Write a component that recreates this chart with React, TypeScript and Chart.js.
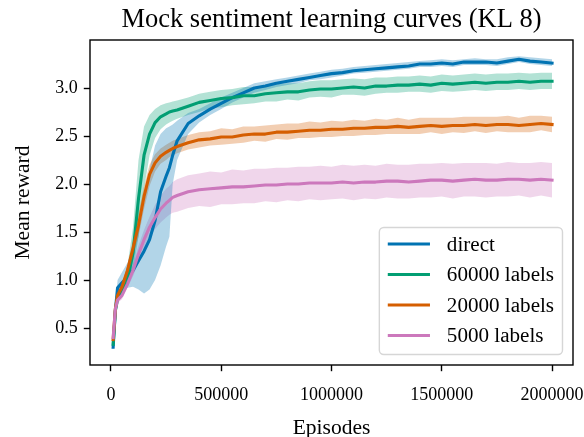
import React, { useEffect, useRef } from "react";
import { Chart, registerables } from "chart.js";

Chart.register(...registerables);

const TITLE = "Mock sentiment learning curves (KL 8)";
const X_LABEL = "Episodes";
const Y_LABEL = "Mean reward";
const X_TICKS = [0, 500000, 1000000, 1500000, 2000000];
const Y_TICKS = [0.5, 1.0, 1.5, 2.0, 2.5, 3.0];
const SERIES_LABELS = ["direct", "60000 labels", "20000 labels", "5000 labels"];

const EPISODES = [
  10000, 20000, 30000, 50000, 75000, 100000, 125000, 150000, 175000, 200000,
  225000, 250000, 265000, 280000, 300000, 350000,
  400000, 450000, 500000, 550000, 600000, 650000, 700000, 750000, 800000, 850000,
  900000, 950000, 1000000, 1050000, 1100000, 1150000, 1200000, 1250000, 1300000,
  1350000, 1400000, 1450000, 1500000, 1550000, 1600000, 1650000, 1700000, 1750000,
  1800000, 1850000, 1900000, 1950000, 2000000,
];

// direct
const DIRECT_MEAN = [
  0.3, 0.68, 0.92, 0.97, 1.03, 1.1, 1.2, 1.3, 1.42, 1.62, 1.92, 2.08, 2.17, 2.3, 2.45, 2.63,
  2.71, 2.78, 2.84, 2.9, 2.95, 3.0, 3.02, 3.05, 3.07, 3.09, 3.11, 3.13, 3.15, 3.16, 3.18, 3.19,
  3.2, 3.21, 3.22, 3.23, 3.25, 3.25, 3.26, 3.25, 3.27, 3.27, 3.27, 3.26, 3.28, 3.3, 3.28, 3.27, 3.26,
];
const DIRECT_LO = [
  0.28, 0.62, 0.85, 0.88, 0.92, 0.93, 0.9, 0.86, 0.9, 1.0, 1.15, 1.35, 1.45, 2.0, 2.25, 2.52,
  2.64, 2.72, 2.78, 2.85, 2.9, 2.95, 2.98, 3.01, 3.03, 3.05, 3.08, 3.09, 3.11, 3.13, 3.15, 3.16,
  3.17, 3.18, 3.19, 3.2, 3.22, 3.22, 3.23, 3.22, 3.24, 3.24, 3.24, 3.23, 3.25, 3.27, 3.25, 3.24, 3.23,
];
const DIRECT_HI = [
  0.33, 0.74, 1.0, 1.08, 1.18, 1.32, 1.52, 1.8, 2.15, 2.4, 2.52, 2.58, 2.6, 2.62, 2.66, 2.74,
  2.78, 2.84, 2.9, 2.95, 3.0, 3.05, 3.07, 3.09, 3.11, 3.13, 3.15, 3.17, 3.19, 3.2, 3.22, 3.23,
  3.24, 3.25, 3.26, 3.27, 3.28, 3.29, 3.3, 3.29, 3.3, 3.31, 3.3, 3.3, 3.32, 3.33, 3.32, 3.31, 3.3,
];

// 60000 labels
const L60K_MEAN = [
  0.33, 0.68, 0.8, 0.88, 1.0, 1.28, 1.85, 2.3, 2.52, 2.64, 2.7, 2.73, 2.75, 2.76, 2.77, 2.81,
  2.85, 2.87, 2.89, 2.9, 2.92, 2.92, 2.94, 2.95, 2.96, 2.96, 2.98, 2.99, 2.99, 3.0, 3.01, 3.0,
  3.02, 3.02, 3.03, 3.03, 3.04, 3.03, 3.05, 3.04, 3.05, 3.06, 3.05, 3.06, 3.06, 3.07, 3.06, 3.07, 3.07,
];
const L60K_LO = [
  0.31, 0.64, 0.76, 0.84, 0.93, 1.1, 1.45, 1.95, 2.3, 2.48, 2.57, 2.62, 2.64, 2.66, 2.68, 2.72,
  2.75, 2.79, 2.8, 2.82, 2.83, 2.84, 2.86, 2.86, 2.88, 2.87, 2.9, 2.91, 2.9, 2.93, 2.93, 2.92,
  2.94, 2.95, 2.95, 2.96, 2.96, 2.95, 2.97, 2.96, 2.97, 2.98, 2.97, 2.98, 2.98, 2.99, 2.98, 2.99, 2.99,
];
const L60K_HI = [
  0.35, 0.72, 0.85, 0.94, 1.15, 1.55, 2.25, 2.6, 2.72, 2.78, 2.82, 2.84, 2.85, 2.86, 2.87, 2.9,
  2.94, 2.96, 2.98, 2.99, 3.01, 3.01, 3.03, 3.04, 3.05, 3.05, 3.07, 3.08, 3.08, 3.09, 3.1, 3.09,
  3.11, 3.11, 3.12, 3.12, 3.13, 3.12, 3.14, 3.13, 3.14, 3.15, 3.14, 3.15, 3.15, 3.16, 3.15, 3.16, 3.16,
];

// 20000 labels
const L20K_MEAN = [
  0.38, 0.7, 0.84, 0.93, 1.1, 1.33, 1.57, 1.87, 2.1, 2.22, 2.29, 2.33, 2.35, 2.37, 2.39, 2.43,
  2.46, 2.47, 2.49, 2.49, 2.51, 2.52, 2.52, 2.54, 2.54, 2.55, 2.56, 2.56, 2.57, 2.57, 2.58, 2.58,
  2.59, 2.59, 2.6, 2.59, 2.6, 2.61, 2.6, 2.61, 2.61, 2.62, 2.61, 2.62, 2.62, 2.61, 2.62, 2.63, 2.62,
];
const L20K_LO = [
  0.36, 0.66, 0.8, 0.89, 1.04, 1.24, 1.45, 1.74, 1.98, 2.13, 2.21, 2.25, 2.28, 2.3, 2.32, 2.36,
  2.38, 2.4, 2.41, 2.42, 2.43, 2.45, 2.44, 2.47, 2.46, 2.48, 2.48, 2.49, 2.49, 2.5, 2.5, 2.51,
  2.51, 2.52, 2.52, 2.52, 2.52, 2.54, 2.52, 2.54, 2.53, 2.55, 2.53, 2.55, 2.54, 2.54, 2.54, 2.56, 2.54,
];
const L20K_HI = [
  0.4, 0.74, 0.88, 0.97, 1.16, 1.42, 1.7, 1.98, 2.2, 2.31, 2.37, 2.41, 2.43, 2.45, 2.47, 2.51,
  2.54, 2.55, 2.58, 2.57, 2.6, 2.6, 2.61, 2.62, 2.63, 2.63, 2.65, 2.64, 2.66, 2.65, 2.67, 2.66,
  2.68, 2.67, 2.69, 2.67, 2.69, 2.69, 2.69, 2.69, 2.7, 2.7, 2.7, 2.7, 2.71, 2.69, 2.71, 2.71, 2.7,
];

// 5000 labels
const L5K_MEAN = [
  0.4, 0.7, 0.79, 0.84, 0.96, 1.1, 1.27, 1.42, 1.55, 1.65, 1.74, 1.8, 1.83, 1.86, 1.88, 1.92,
  1.94, 1.95, 1.96, 1.97, 1.97, 1.98, 1.99, 1.99, 2.0, 2.0, 2.01, 2.01, 2.01, 2.02, 2.01, 2.02,
  2.02, 2.03, 2.03, 2.02, 2.03, 2.04, 2.04, 2.03, 2.04, 2.05, 2.04, 2.04, 2.05, 2.05, 2.04, 2.05, 2.04,
];
const L5K_LO = [
  0.38, 0.67, 0.76, 0.8, 0.92, 1.04, 1.18, 1.32, 1.44, 1.53, 1.6, 1.65, 1.68, 1.7, 1.71, 1.75,
  1.77, 1.76, 1.79, 1.79, 1.8, 1.8, 1.82, 1.81, 1.83, 1.82, 1.84, 1.83, 1.84, 1.85, 1.83, 1.85,
  1.84, 1.86, 1.85, 1.85, 1.86, 1.86, 1.87, 1.85, 1.87, 1.87, 1.86, 1.87, 1.87, 1.88, 1.86, 1.88, 1.86,
];
const L5K_HI = [
  0.42, 0.73, 0.82, 0.88, 1.01, 1.16, 1.36, 1.52, 1.66, 1.78, 1.88, 1.95, 1.98, 2.02, 2.05, 2.09,
  2.11, 2.13, 2.12, 2.15, 2.14, 2.16, 2.16, 2.17, 2.17, 2.18, 2.18, 2.19, 2.18, 2.2, 2.19, 2.2,
  2.19, 2.21, 2.2, 2.2, 2.21, 2.21, 2.22, 2.21, 2.22, 2.22, 2.22, 2.21, 2.23, 2.22, 2.22, 2.23, 2.22,
];

const MEANS = [DIRECT_MEAN, L60K_MEAN, L20K_MEAN, L5K_MEAN];
const LOWS = [DIRECT_LO, L60K_LO, L20K_LO, L5K_LO];
const HIGHS = [DIRECT_HI, L60K_HI, L20K_HI, L5K_HI];

const COLORS = ["#0173b2", "#029e73", "#d55e00", "#cc78bc"];
const BAND_COLORS = [
  "rgba(1,115,178,0.3)",
  "rgba(2,158,115,0.3)",
  "rgba(213,94,0,0.3)",
  "rgba(204,120,188,0.3)",
];

const FONT = "'Liberation Serif', 'Times New Roman', serif";
const W = 584;
const H = 437;
const LINE_W = 3.1;

const toPoints = (ys: number[]) => EPISODES.map((x, i) => ({ x, y: ys[i] }));

const decorPlugin = {
  id: "decor",
  afterDatasetsDraw(chart: any) {
    const { ctx, chartArea: a } = chart;
    ctx.save();
    ctx.strokeStyle = "#000";
    ctx.lineWidth = 1.4;
    ctx.strokeRect(a.left, a.top, a.right - a.left, a.bottom - a.top);
    ctx.restore();
  },
  afterDraw(chart: any) {
    const { ctx, chartArea: a } = chart;
    ctx.save();
    // title
    ctx.fillStyle = "#000";
    ctx.font = `26.5px ${FONT}`;
    ctx.textAlign = "center";
    ctx.textBaseline = "alphabetic";
    ctx.fillText(TITLE, (a.left + a.right) / 2, a.top - 13.5);

    // legend
    const fs = 21.1;
    ctx.font = `${fs}px ${FONT}`;
    let maxW = 0;
    SERIES_LABELS.forEach((l) => {
      maxW = Math.max(maxW, ctx.measureText(l).width);
    });
    const bw = 0.4 * fs + 2 * fs + 0.8 * fs + maxW + 0.4 * fs;
    const rowH = 30.5;
    const bh = 127;
    const right = a.right - 10.5;
    const bottom = a.bottom - 10.5;
    const left = right - bw;
    const top = bottom - bh;
    ctx.beginPath();
    if ((ctx as any).roundRect) {
      (ctx as any).roundRect(left, top, bw, bh, 4.5);
    } else {
      ctx.rect(left, top, bw, bh);
    }
    ctx.fillStyle = "rgba(255,255,255,0.8)";
    ctx.fill();
    ctx.strokeStyle = "rgba(204,204,204,0.8)";
    ctx.lineWidth = 1.4;
    ctx.stroke();
    SERIES_LABELS.forEach((label, i) => {
      const y = top + 16.5 + i * rowH;
      const x0 = left + 0.4 * fs;
      ctx.beginPath();
      ctx.moveTo(x0, y);
      ctx.lineTo(x0 + 2 * fs, y);
      ctx.strokeStyle = COLORS[i];
      ctx.lineWidth = LINE_W;
      ctx.lineCap = "butt";
      ctx.stroke();
      ctx.fillStyle = "#000";
      ctx.textAlign = "left";
      ctx.textBaseline = "middle";
      ctx.fillText(label, x0 + 2.8 * fs, y + 1);
    });
    ctx.restore();
  },
};

export default function App() {
  const canvasRef = useRef<HTMLCanvasElement | null>(null);

  useEffect(() => {
    const canvas = canvasRef.current;
    if (!canvas) return;

    const datasets: any[] = [];
    MEANS.forEach((m, i) => {
      datasets.push({
        label: SERIES_LABELS[i],
        data: toPoints(m),
        borderColor: COLORS[i],
        backgroundColor: COLORS[i],
        borderWidth: LINE_W,
        pointRadius: 0,
        tension: 0,
        fill: false,
        borderJoinStyle: "round",
        borderCapStyle: "square",
        order: 3 - i,
      });
    });
    LOWS.forEach((lo, i) => {
      const loIndex = datasets.length;
      datasets.push({
        label: SERIES_LABELS[i] + " low",
        data: toPoints(lo),
        borderColor: "rgba(0,0,0,0)",
        backgroundColor: "rgba(0,0,0,0)",
        borderWidth: 0,
        pointRadius: 0,
        tension: 0,
        fill: false,
        order: 10 + i,
      });
      datasets.push({
        label: SERIES_LABELS[i] + " high",
        data: toPoints(HIGHS[i]),
        borderColor: "rgba(0,0,0,0)",
        backgroundColor: BAND_COLORS[i],
        borderWidth: 0,
        pointRadius: 0,
        tension: 0,
        fill: { target: loIndex },
        order: 10 + i,
      });
    });

    const chart = new Chart(canvas, {
      type: "line",
      data: { datasets },
      options: {
        responsive: false,
        animation: false,
        devicePixelRatio: 1,
        layout: { padding: { top: 40, right: 11, left: 0, bottom: 0 } },
        plugins: {
          legend: { display: false },
          tooltip: { enabled: false },
          title: { display: false },
          filler: { drawTime: "beforeDatasetsDraw" },
        },
        scales: {
          x: {
            type: "linear",
            min: -95000,
            max: 2095000,
            afterBuildTicks: (s: any) => {
              s.ticks = X_TICKS.map((v) => ({ value: v }));
            },
            afterFit: (s: any) => {
              s.height = 72;
              s.paddingLeft = 0;
              s.paddingRight = 0;
            },
            ticks: {
              autoSkip: false,
              maxRotation: 0,
              padding: 13,
              color: "#000",
              font: { family: FONT, size: 18 },
              callback: (v: any) => String(v),
            },
            grid: {
              display: true,
              drawOnChartArea: false,
              drawTicks: true,
              tickLength: 6.2,
              tickWidth: 1.4,
              tickColor: "#000",
            },
            border: { display: false },
            title: {
              display: true,
              text: X_LABEL,
              color: "#000",
              font: { family: FONT, size: 21.5, lineHeight: 0.85 },
              padding: { top: 0, bottom: 0 },
            },
          },
          y: {
            type: "linear",
            min: 0.1146,
            max: 3.5,
            afterBuildTicks: (s: any) => {
              s.ticks = Y_TICKS.map((v) => ({ value: v }));
            },
            afterFit: (s: any) => {
              s.width = 90;
              s.paddingTop = 0;
              s.paddingBottom = 0;
            },
            ticks: {
              autoSkip: false,
              padding: 6,
              color: "#000",
              font: { family: FONT, size: 18 },
              callback: (v: any) => Number(v).toFixed(1),
            },
            grid: {
              display: true,
              drawOnChartArea: false,
              drawTicks: true,
              tickLength: 6.2,
              tickWidth: 1.4,
              tickColor: "#000",
            },
            border: { display: false },
            title: {
              display: true,
              text: Y_LABEL,
              color: "#000",
              font: { family: FONT, size: 21.5, lineHeight: 1.2 },
              padding: { top: 10, bottom: 0 },
            },
          },
        },
      },
      plugins: [decorPlugin],
    });

    return () => chart.destroy();
  }, []);

  return (
    <div style={{ position: "fixed", left: 0, top: 0, width: W, height: H, background: "#fff" }}>
      <canvas ref={canvasRef} width={W} height={H} style={{ display: "block", width: W, height: H }} />
    </div>
  );
}
